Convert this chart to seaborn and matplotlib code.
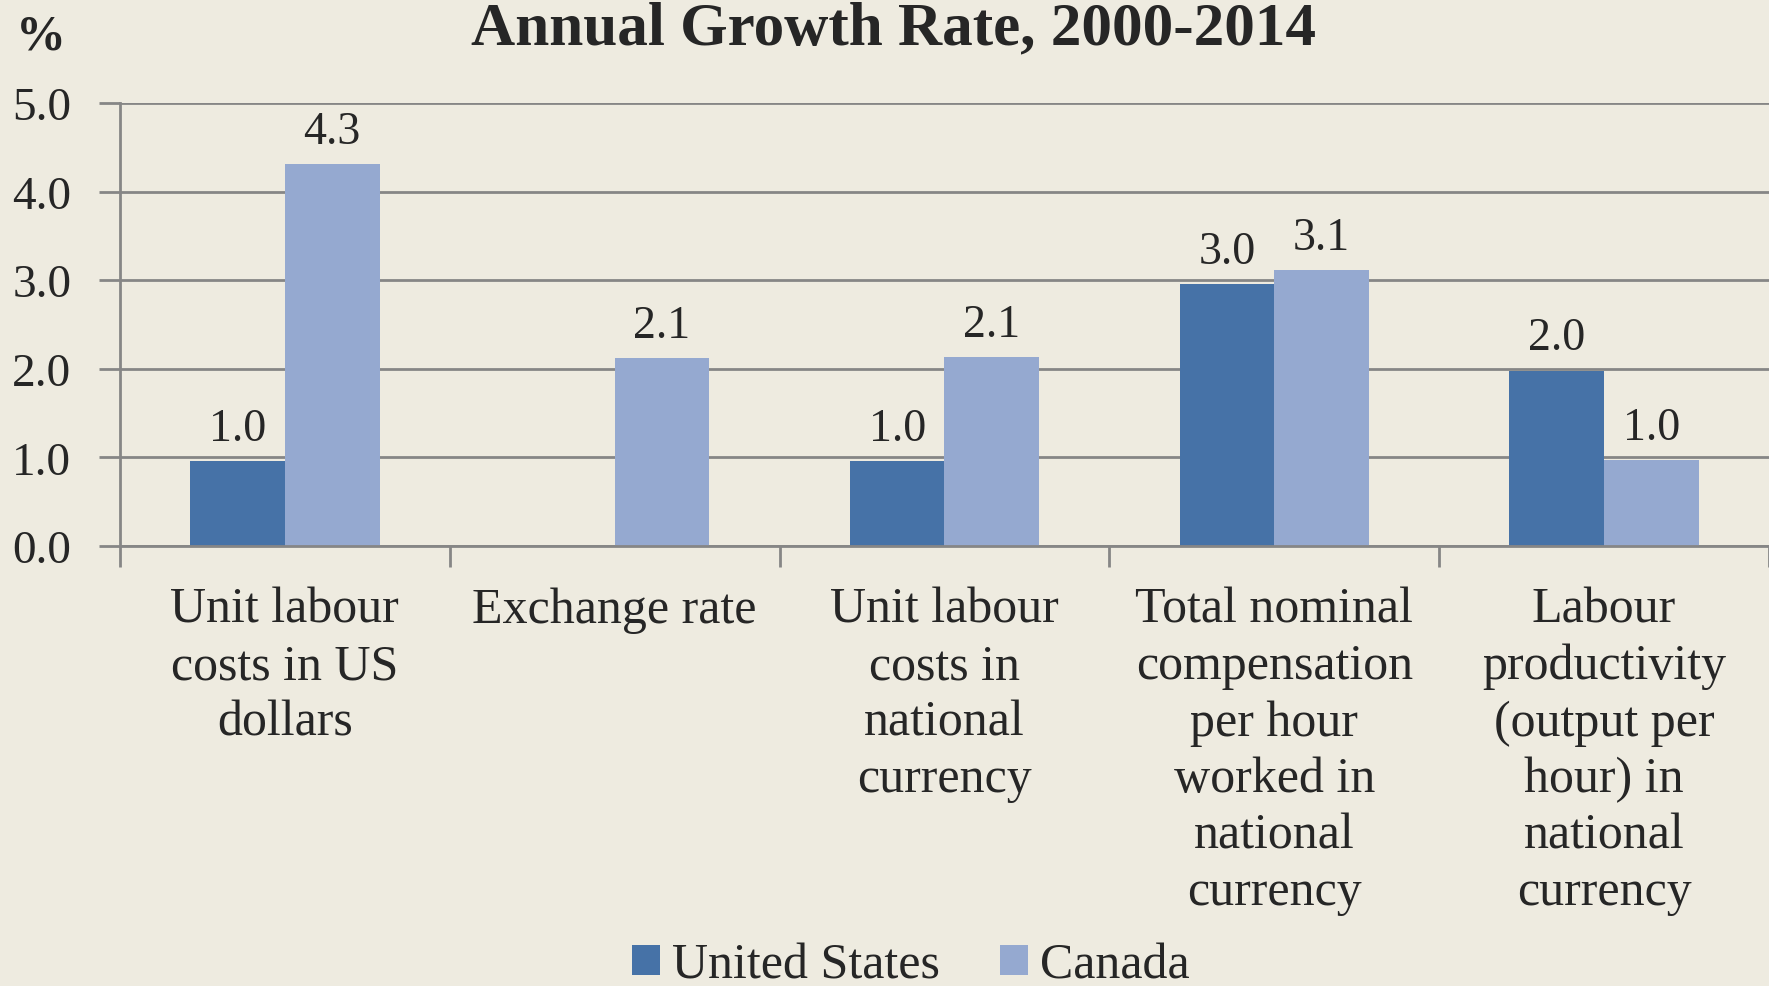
import pandas as pd
import matplotlib.pyplot as plt
import numpy as np
import seaborn as sns

categories = ["Unit labour\ncosts in US\ndollars",
              "Exchange rate",
              "Unit labour\ncosts in\nnational\ncurrency",
              "Total nominal\ncompensation\nper hour\nworked in\nnational\ncurrency",
              "Labour\nproductivity\n(output per\nhour) in\nnational\ncurrency"]
us_values = [0.96, np.nan, 0.96, 2.96, 1.98]
canada_values = [4.31, 2.12, 2.13, 3.11, 0.97]
series = ["United States", "Canada"]
yticks = [0.0, 1.0, 2.0, 3.0, 4.0, 5.0]

bg = "#EEEBE0"
grid_col = "#868686"
colors = ["#4672A7", "#95A9D0"]

df = pd.DataFrame({
    "category": categories * 2,
    "country": [series[0]] * len(categories) + [series[1]] * len(categories),
    "value": us_values + canada_values,
})

sns.set_style("white")
plt.rcParams["font.family"] = ["Liberation Serif", "DejaVu Serif"]

fig = plt.figure(figsize=(17.69, 9.87), dpi=100, facecolor=bg)
ax = fig.add_axes([0.0678, 0.4458, 0.9322, 0.4488], facecolor=bg)

sns.barplot(data=df, x="category", y="value", hue="country", order=categories,
            hue_order=series, palette=colors, width=0.574, saturation=1,
            errorbar=None, ax=ax, legend=True, edgecolor="none")

# value labels above each drawn bar
for cont in ax.containers:
    for bar in cont:
        if bar is None or np.isnan(bar.get_height()):
            continue
        ax.annotate("%.1f" % bar.get_height(),
                    (bar.get_x() + bar.get_width() / 2, bar.get_height()),
                    xytext=(0, 8), textcoords="offset points",
                    ha="center", va="bottom", fontsize=33)

ax.set_ylim(0, 5)
ax.set_xlim(-0.5, len(categories) - 0.5)
ax.set_yticks(yticks)
ax.set_yticklabels(["%.1f" % t for t in yticks], fontsize=34)
ax.yaxis.grid(True, color=grid_col, linewidth=2)
ax.set_axisbelow(True)
ax.tick_params(axis="y", length=15, width=2, color=grid_col, pad=20, left=True)

ax.set_xticks(np.arange(len(categories) + 1) - 0.5)
ax.set_xticklabels([])
ax.set_xticks(np.arange(len(categories)), minor=True)
ax.set_xticklabels(categories, minor=True, fontsize=36, linespacing=1.28)
ax.tick_params(axis="x", which="major", length=15, width=2, color=grid_col, bottom=True)
ax.tick_params(axis="x", which="minor", length=0, pad=29)

for s in ["top", "right"]:
    ax.spines[s].set_visible(False)
for s in ["left", "bottom"]:
    ax.spines[s].set_color(grid_col)
    ax.spines[s].set_linewidth(2)

ax.set_xlabel("")
ax.set_ylabel("")

handles, labels = ax.get_legend_handles_labels()
ax.get_legend().remove()
fig.legend(handles, labels, loc="center", bbox_to_anchor=(0.515, 0.021), ncol=2,
           frameon=False, fontsize=36, handlelength=0.55, handleheight=0.55,
           handletextpad=0.25, columnspacing=1.2, borderpad=0.2)

fig.text(0.505, 0.955, "Annual Growth Rate, 2000-2014", ha="center", va="baseline",
         fontsize=44, fontweight="bold")
fig.text(0.009, 0.95, "%", ha="left", va="baseline", fontsize=36, fontweight="bold")

fig.savefig("out.png", dpi=100, facecolor=bg)
